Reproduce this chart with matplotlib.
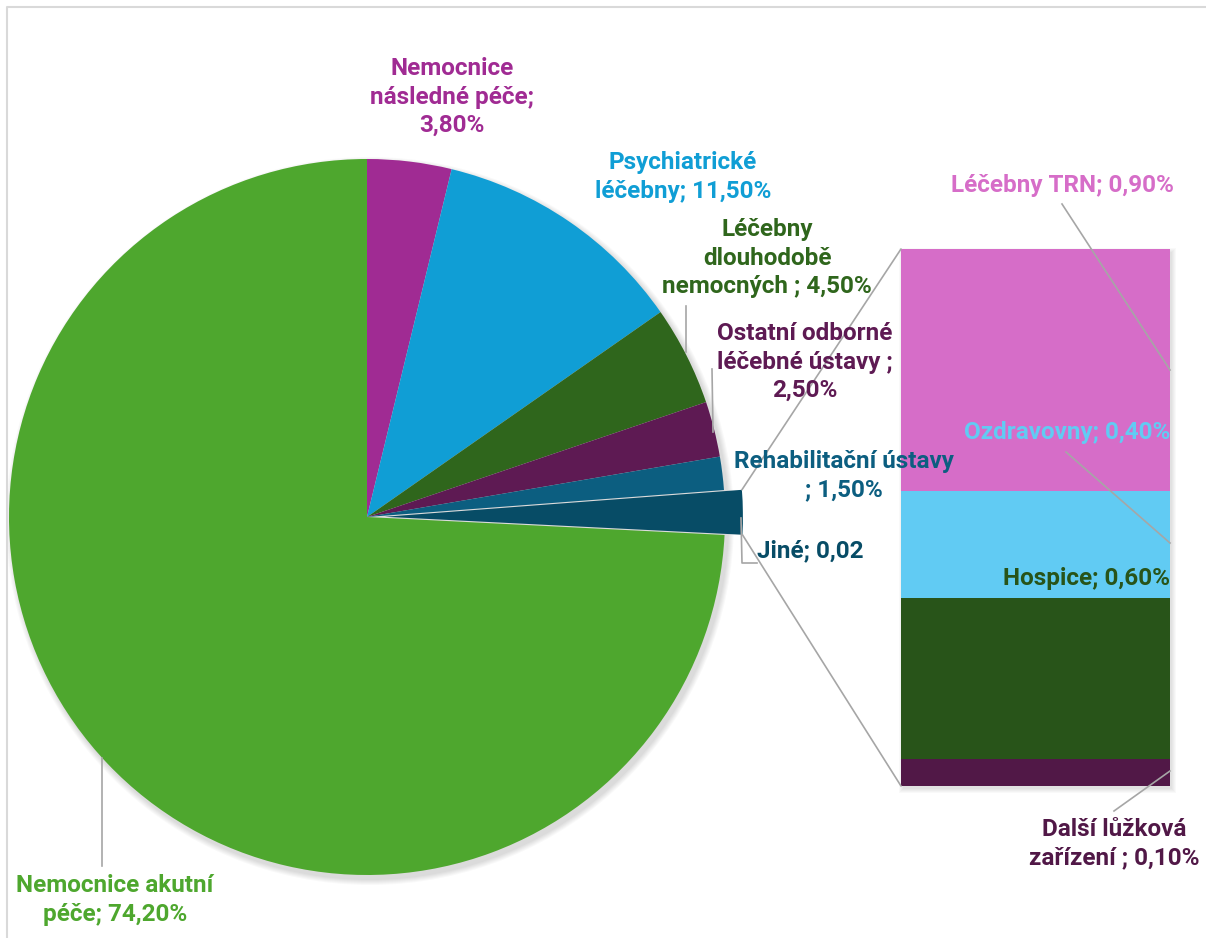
import numpy as np
import matplotlib.pyplot as plt
from matplotlib.patches import ConnectionPatch, Circle, Rectangle

plt.rcParams['font.family'] = ['Roboto', 'DejaVu Sans']
plt.rcParams['font.weight'] = 'bold'

# pie slices, clockwise from 12 o'clock; "Jiné" is split out into the bar
pie_labels = ['Nemocnice\nnásledné péče;\n3,80%',
              'Psychiatrické\nléčebny; 11,50%',
              'Léčebny\ndlouhodobě\nnemocných ; 4,50%',
              'Ostatní odborné\nléčebné ústavy ;\n2,50%',
              'Rehabilitační ústavy\n; 1,50%',
              'Jiné; 0,02',
              'Nemocnice akutní\npéče; 74,20%']
pie_values = [3.8, 11.5, 4.5, 2.5, 1.5, 2.0, 74.2]
pie_colors = ['#A02B93', '#109ED5', '#2F661C', '#5E1A53', '#0C5E80', '#074C66', '#4EA72E']

# breakdown of "Jiné", bottom to top
bar_labels = ['Další lůžková\nzařízení ; 0,10%', 'Hospice; 0,60%',
              'Ozdravovny; 0,40%', 'Léčebny TRN; 0,90%']
bar_values = [0.1, 0.6, 0.4, 0.9]
bar_colors = ['#511847', '#285419', '#61CBF3', '#D66DC8']

W, H = 1206, 938
fig = plt.figure(figsize=(W / 100, H / 100), dpi=100)
ax = fig.add_axes([0, 0, 1, 1])
ax.set_zorder(2)


def Y(y):
    return H - y


cx, cy, r = 367, Y(517), 358

# soft shadow under the pie
for k in range(6):
    ax.add_patch(Circle((cx + 3, cy - 4), r + 1 + k, color='k', alpha=0.025, lw=0, zorder=0))

# only "Jiné" is pulled out of the pie
explode = [0, 0, 0, 0, 0, 0.05 * r, 0]
wedges, _ = ax.pie(pie_values, colors=pie_colors, startangle=90, counterclock=False,
                   center=(cx, cy), radius=r, explode=explode,
                   wedgeprops=dict(linewidth=0))

ax.set_xlim(0, W)
ax.set_ylim(0, H)
ax.set_aspect('auto')
ax.axis('off')

# chart frame
ax.plot([7, 7, W + 5], [-5, Y(7), Y(7)], color='#D9D9D9', lw=1.5, clip_on=False)

fs = 17.5
lead = '#A6A6A6'

pie_label_pos = [(452, 97), (683, 177), (767, 258), (805, 362), (844, 476), (810, 551), (115, 900)]
for (x, y), lab, col in zip(pie_label_pos, pie_labels, pie_colors):
    ha = 'center'
    if lab.startswith('Jiné'):
        x, ha = 757, 'left'
    ax.text(x, Y(y), lab, color=col, fontsize=fs, ha=ha, va='center',
            multialignment='center', linespacing=1.3, zorder=5)

# leader lines of the pie labels
for pts in [[(102, 758), (102, 866)],
            [(686, 306), (686, 352)],
            [(712, 369), (713, 432)],
            [(741, 518), (742, 563), (757, 563)]]:
    ax.plot([p[0] for p in pts], [Y(p[1]) for p in pts], color=lead, lw=1.2, zorder=4)

# bar of "Jiné"
bx0, by_top, bw, bh = 901, 249, 269, 537
bax = fig.add_axes([bx0 / W, Y(by_top + bh) / H, bw / W, bh / H])
bax.set_zorder(1)
for k in range(5):
    bax.add_patch(Rectangle((bx0 + 2 - k, Y(by_top + bh) - 3 - k), bw + 2 * k, bh + 2 * k,
                            color='k', alpha=0.025, lw=0, zorder=0,
                            transform=ax.transData, clip_on=False))
bottom = 0
for v, col in zip(bar_values, bar_colors):
    bax.bar(0, v, bottom=bottom, width=1, color=col, linewidth=0, zorder=1)
    bottom += v
bax.set_xlim(-0.5, 0.5)
bax.set_ylim(0, sum(bar_values))
bax.axis('off')

# connector lines from the exploded slice to the bar
w = wedges[5]
for theta, yb in [(w.theta2, sum(bar_values)), (w.theta1, 0)]:
    px = w.center[0] + w.r * np.cos(np.radians(theta))
    py = w.center[1] + w.r * np.sin(np.radians(theta))
    con = ConnectionPatch(xyA=(px, py), coordsA=ax.transData, xyB=(-0.5, yb),
                          coordsB=bax.transData, color=lead, lw=1.2)
    ax.add_artist(con)

# bar labels
bar_label_pos = [(1114, 844, 'center'), (1170, 578, 'right'), (1170, 432, 'right'), (1062, 185, 'center')]
for (x, y, ha), lab, col in zip(bar_label_pos, bar_labels, bar_colors):
    ax.text(x, Y(y), lab, color=col, fontsize=fs, ha=ha, va='center',
            multialignment='center', linespacing=1.3, zorder=5)

for pts in [[(1062, 204), (1170, 370)],
            [(1066, 452), (1170, 543)],
            [(1114, 811), (1170, 771)]]:
    ax.plot([p[0] for p in pts], [Y(p[1]) for p in pts], color=lead, lw=1.2, zorder=4)

fig.savefig('out.png', dpi=100)
